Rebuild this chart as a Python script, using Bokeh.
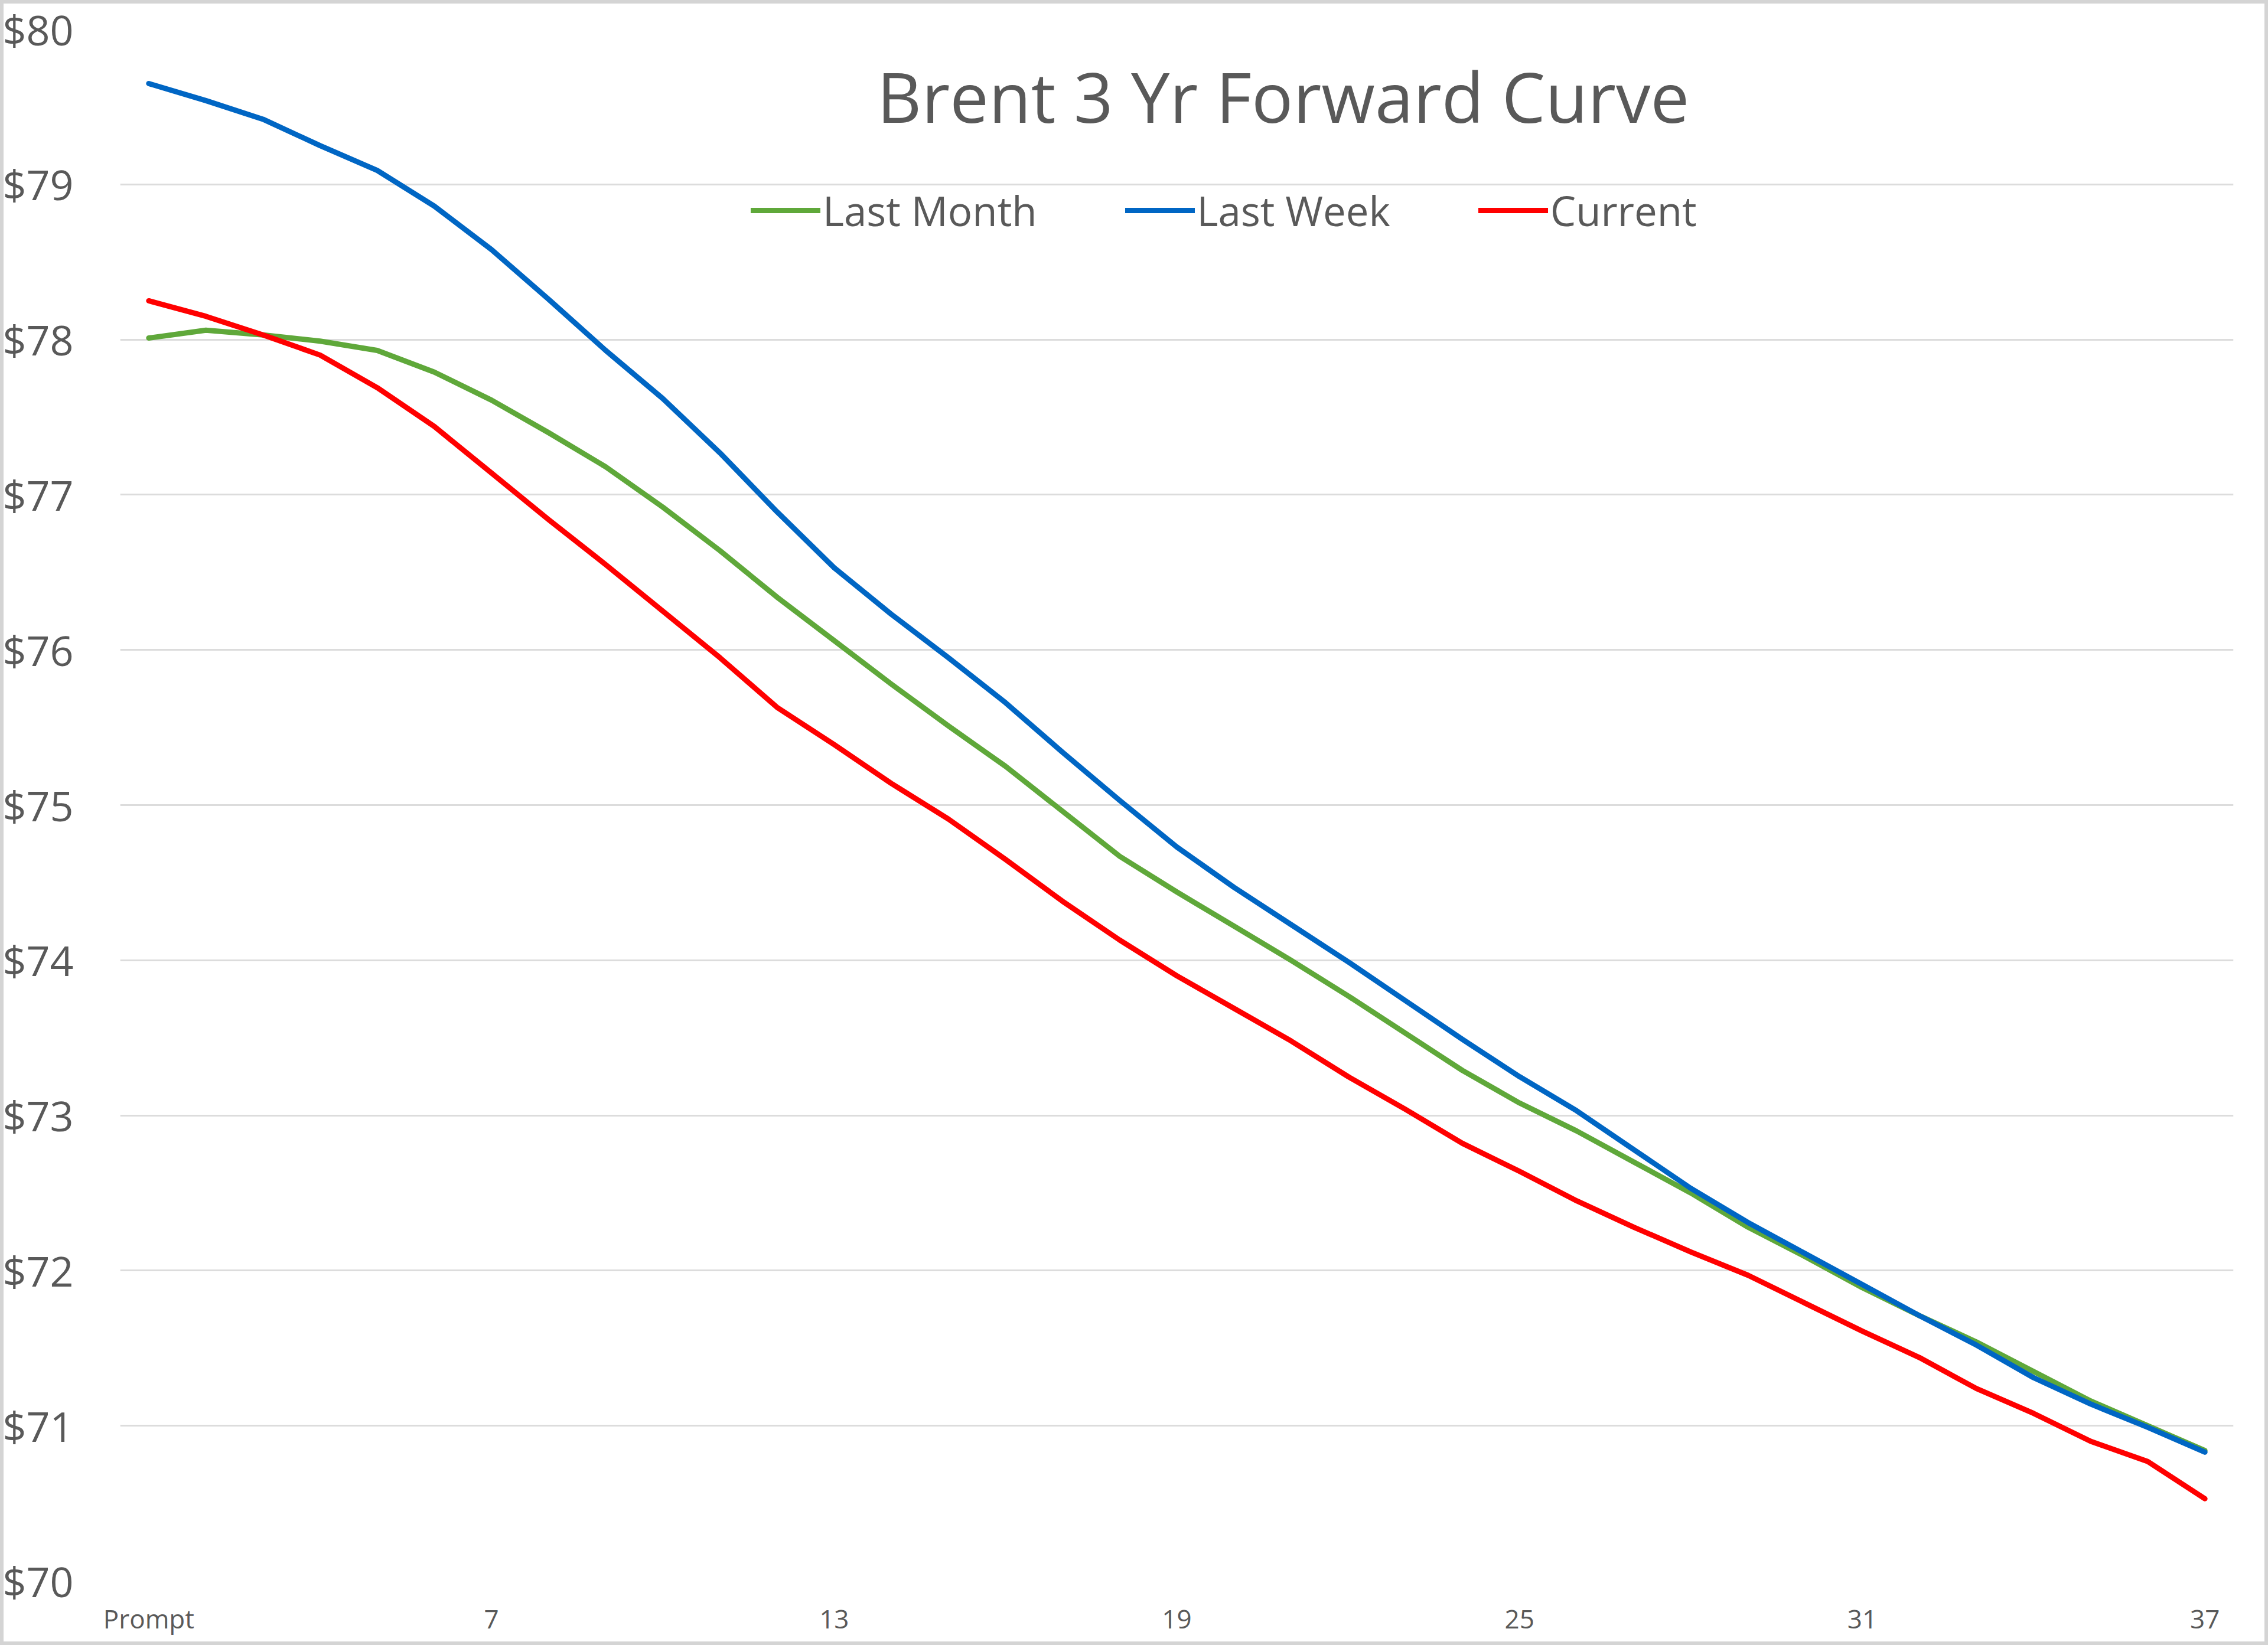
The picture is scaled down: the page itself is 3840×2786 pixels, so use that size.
from bokeh.plotting import figure
from bokeh.models import (Range1d, FixedTicker, NumeralTickFormatter, Legend, Label,
                          InlineStyleSheet)
from bokeh.embed import file_html
from bokeh.resources import INLINE

# ---- data ----
months = list(range(1, 38))
tick_positions = [1, 7, 13, 19, 25, 31, 37]
tick_labels = ["Prompt", "7", "13", "19", "25", "31", "37"]
y_ticks = [70, 71, 72, 73, 74, 75, 76, 77, 78, 79, 80]

last_month = [78.01, 78.06, 78.03, 77.99, 77.93, 77.79, 77.61, 77.40, 77.18, 76.92,
              76.64, 76.34, 76.06, 75.78, 75.51, 75.25, 74.96, 74.67, 74.44, 74.22,
              74.00, 73.77, 73.53, 73.29, 73.08, 72.90, 72.70, 72.50, 72.28, 72.09,
              71.89, 71.71, 71.54, 71.35, 71.16, 71.00, 70.84]
last_week = [79.65, 79.54, 79.42, 79.25, 79.09, 78.86, 78.58, 78.26, 77.93, 77.62,
             77.27, 76.89, 76.53, 76.23, 75.95, 75.66, 75.34, 75.03, 74.73, 74.47,
             74.23, 73.99, 73.74, 73.49, 73.25, 73.03, 72.78, 72.53, 72.31, 72.11,
             71.91, 71.71, 71.52, 71.31, 71.14, 70.99, 70.83]
current = [78.25, 78.15, 78.03, 77.90, 77.69, 77.44, 77.14, 76.84, 76.55, 76.25,
           75.95, 75.63, 75.39, 75.14, 74.91, 74.65, 74.38, 74.13, 73.90, 73.69,
           73.48, 73.25, 73.04, 72.82, 72.64, 72.45, 72.28, 72.12, 71.97, 71.79,
           71.61, 71.44, 71.24, 71.08, 70.90, 70.77, 70.53]

series_names = ["Last Month", "Last Week", "Current"]
series_colors = ["#5FA83A", "#0066C4", "#FF0000"]

FONT = "Open Sans"
TXT = "#595959"

W, H = 3840, 2786
p = figure(width=W, height=H, output_backend="svg", toolbar_location=None,
           x_range=Range1d(0.5, 37.5), y_range=Range1d(70, 80),
           min_border_left=203, min_border_right=59, min_border_top=49,
           min_border_bottom=109)
p.background_fill_color = "white"
p.border_fill_color = "white"
p.outline_line_color = None
# thin grey chart border overlaid on the whole element (does not change layout)
p.stylesheets = [InlineStyleSheet(css=(
    ":host { position: relative; }"
    ":host::after { content: ''; position: absolute; left: 0; top: 0; right: 0; bottom: 0;"
    " border: 6px solid #D4D4D4; pointer-events: none; z-index: 100; }"))]

renderers = []
for vals, name, col in zip([last_month, last_week, current], series_names, series_colors):
    r = p.line(months, vals, line_color=col, line_width=9, line_join="round", line_cap="round")
    renderers.append((name, [r]))

# axes
p.xaxis.ticker = FixedTicker(ticks=tick_positions)
p.xaxis.major_label_overrides = {k: v for k, v in zip(tick_positions, tick_labels)}
p.xaxis.axis_line_color = None
p.xaxis.major_tick_line_color = None
p.xaxis.minor_tick_line_color = None
p.xaxis.major_label_text_font = FONT
p.xaxis.major_label_text_font_size = "44px"
p.xaxis.major_label_text_color = TXT
p.xaxis.major_label_standoff = 27

p.yaxis.ticker = FixedTicker(ticks=y_ticks)
p.yaxis.formatter = NumeralTickFormatter(format="$0")
p.yaxis.axis_line_color = None
p.yaxis.major_tick_line_color = None
p.yaxis.minor_tick_line_color = None
p.yaxis.major_label_text_font = FONT
p.yaxis.major_label_text_font_size = "70px"
p.yaxis.major_label_text_color = TXT
p.yaxis.major_label_standoff = 73

p.xgrid.grid_line_color = None
p.ygrid.grid_line_color = "#DCDCDC"
p.ygrid.grid_line_width = 3

# legend
legend = Legend(items=renderers, orientation="horizontal",
                location=(1068, 2274),
                border_line_color=None, background_fill_alpha=0,
                glyph_width=118, glyph_height=70, label_standoff=4, spacing=149,
                padding=0, margin=0,
                label_text_font=FONT, label_text_font_size="69px",
                label_text_color=TXT, label_text_baseline="middle")
p.add_layout(legend, "center")

# title inside the plot area
title = Label(x=1969, y=2515, x_units="screen", y_units="screen",
              text="Brent 3 Yr Forward Curve", text_align="center",
              text_baseline="middle", text_font=FONT, text_font_size="117px",
              text_color=TXT)
p.add_layout(title)

open("out.html", "w").write(file_html(p, INLINE))
